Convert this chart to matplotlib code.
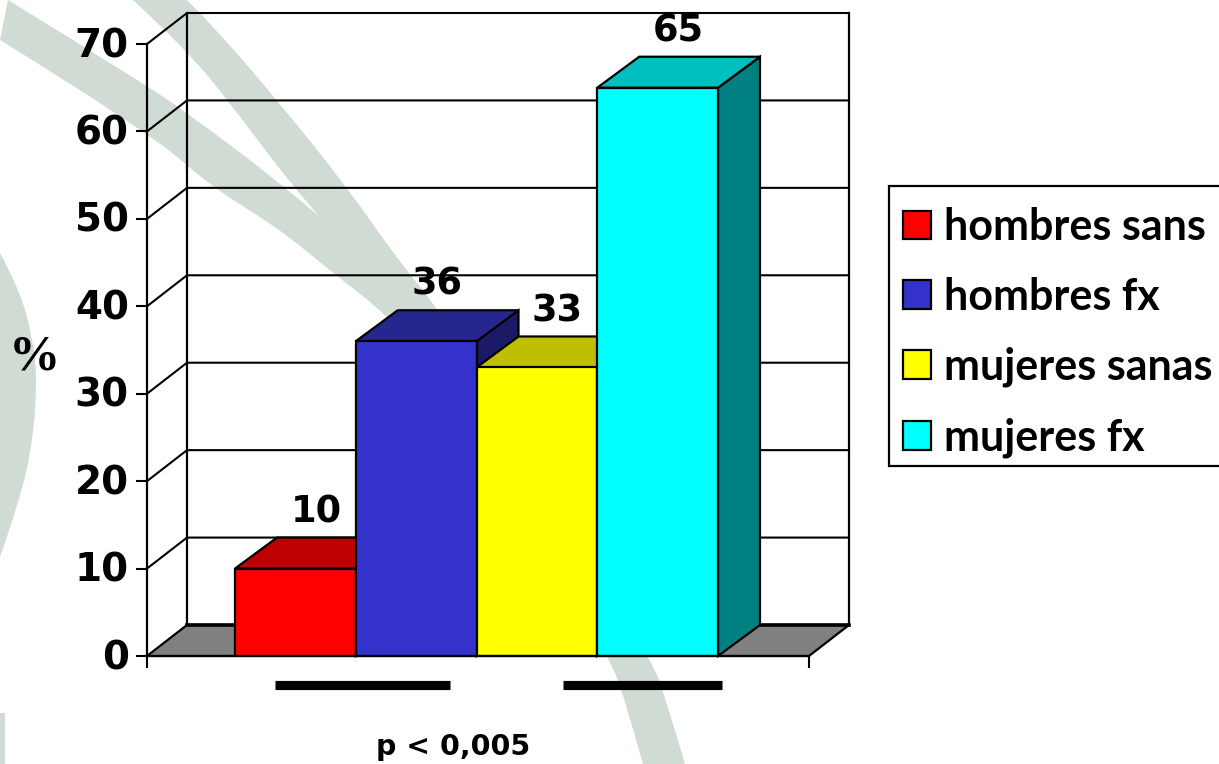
import matplotlib
matplotlib.use('Agg')
import matplotlib.pyplot as plt
from matplotlib.patches import Polygon, Patch, Rectangle, PathPatch
from matplotlib.path import Path
from matplotlib.transforms import ScaledTranslation

labels = ['hombres sans', 'hombres fx', 'mujeres sanas', 'mujeres fx']
values = [10, 36, 33, 65]
front_colors = ['#FF0000', '#3333CC', '#FFFF00', '#00FFFF']
top_colors = ['#BF0000', '#26268F', '#BFBF00', '#00BFBF']
side_colors = ['#800000', '#1A1A66', '#808000', '#008080']
y_ticks = [0, 10, 20, 30, 40, 50, 60, 70]

W, H = 1219, 764
FONT = 'Lato'
NUM_FONT = 'DejaVu Sans'
BAND = '#D0DBD4'


def smooth_edges(edges):
    # each edge becomes a chain of quadratic curves, corners between edges stay sharp
    verts, codes = [], []
    for pts in edges:
        verts.append(pts[0])
        codes.append(Path.MOVETO if not verts[:-1] else Path.LINETO)
        for a, b in zip(pts[1:-1], pts[2:]):
            mid = ((a[0] + b[0]) / 2, (a[1] + b[1]) / 2)
            if b == pts[-1]:
                mid = b
            verts += [a, mid]
            codes += [Path.CURVE3, Path.CURVE3]
    verts.append(verts[0])
    codes.append(Path.CLOSEPOLY)
    return Path(verts, codes)


fig = plt.figure(figsize=(W / 100, H / 100), dpi=100)

# watermark swooshes, in pixel coordinates
bg = fig.add_axes([0, 0, 1, 1], zorder=0)
bg.set_xlim(0, W)
bg.set_ylim(H, 0)
bg.axis('off')
upper_arm = [(8, 0), (143, 83), (187, 113), (273, 177), (320, 217)]
inner_arm = [(320, 217), (293, 187), (233, 107), (187, 50), (133, 0)]
outer_edge = [(187, 0), (217, 30), (277, 100), (347, 187), (400, 263), (438, 308), (520, 440),
              (590, 570), (652, 660), (667, 703), (685, 764)]
inner_edge = [(643, 764), (623, 693), (610, 660), (530, 520), (450, 390), (390, 317), (333, 273),
              (277, 227), (213, 188), (146, 130), (0, 40)]
bg.add_patch(PathPatch(smooth_edges([upper_arm, inner_arm, outer_edge, inner_edge]), fc=BAND, ec='none'))
left_band = [(0, 253), (20, 290), (33, 340), (37, 380), (33, 440), (20, 500), (0, 557)]
bg.add_patch(PathPatch(smooth_edges([left_band]), fc=BAND, ec='none'))
bg.add_patch(Rectangle((0, 713), 5, 51, fc=BAND, ec='none'))

# chart axes span the front plane of the 3d box
ax = fig.add_axes([147 / W, 1 - 656 / H, 662 / W, 612 / H], zorder=1)
ax.patch.set_visible(False)
bar_px = 120.75
x0 = -0.5 - 88 / bar_px
x1 = x0 + 662 / bar_px
ax.set_xlim(x0, x1)
ax.set_ylim(0, 70)
wall_dx = 40 / bar_px
wall_dy = 31 / (612 / 70)
bar_dx = 42 / bar_px
bar_dy = 31 / (612 / 70)
lw = 1.6

# floor and back walls
ax.add_patch(Polygon([(x0, 0), (x0 + wall_dx, wall_dy), (x1 + wall_dx, wall_dy), (x1, 0)],
                     closed=True, fc='#808080', ec='black', lw=lw, clip_on=False, zorder=1))
ax.plot([x0 + wall_dx, x1 + wall_dx], [wall_dy, wall_dy], color='black', lw=2.6, clip_on=False, zorder=1.5)
for t in y_ticks[1:]:
    ax.plot([x0, x0 + wall_dx, x1 + wall_dx], [t, t + wall_dy, t + wall_dy], color='black', lw=1.5,
            clip_on=False, zorder=1)
ax.plot([x0 + wall_dx] * 2, [wall_dy, 70 + wall_dy], color='black', lw=lw, clip_on=False, zorder=1)
ax.plot([x1 + wall_dx] * 2, [wall_dy, 70 + wall_dy], color='black', lw=lw, clip_on=False, zorder=1)

# each bar: side, top, then front so the next bar hides the overhang
for i, v in enumerate(values):
    left, right = i - 0.5, i + 0.5
    z = 2 + i
    ax.add_patch(Polygon([(right, 0), (right + bar_dx, bar_dy), (right + bar_dx, v + bar_dy), (right, v)],
                         closed=True, fc=side_colors[i], ec='black', lw=lw, clip_on=False, zorder=z))
    ax.add_patch(Polygon([(left, v), (left + bar_dx, v + bar_dy), (right + bar_dx, v + bar_dy), (right, v)],
                         closed=True, fc=top_colors[i], ec='black', lw=lw, clip_on=False, zorder=z))
    ax.bar(i, v, width=1, color=front_colors[i], edgecolor='black', linewidth=lw, zorder=z + 0.5)
    ax.text(i + 0.17, v + 6.5, str(v), ha='center', va='center', fontsize=26.5, fontweight='bold',
            family=NUM_FONT, zorder=10, clip_on=False)

ax.spines['top'].set_visible(False)
ax.spines['right'].set_visible(False)
for s in ['left', 'bottom']:
    ax.spines[s].set_linewidth(lw)
    ax.spines[s].set_zorder(9)
ax.set_yticks(y_ticks)
ax.set_yticklabels([str(t) for t in y_ticks], fontsize=28, fontweight='bold', family=NUM_FONT)
ax.set_xticks([x0, x1])
ax.set_xticklabels(['', ''])
ax.tick_params(axis='y', length=8, width=1.5, pad=5)
ax.tick_params(axis='x', length=8.5, width=1.5)
# nudge the numbers up a little from their ticks
nudge = ScaledTranslation(0, 2 / 100, fig.dpi_scale_trans)
for tl in ax.get_yticklabels():
    tl.set_transform(tl.get_transform() + nudge)

fig.text(34 / W, 1 - 357 / H, '%', family='Liberation Serif', fontweight='bold', fontsize=37,
         ha='center', va='center')

# significance bars and the box behind the legend
over = fig.add_axes([0, 0, 1, 1], zorder=2)
over.set_xlim(0, W)
over.set_ylim(H, 0)
over.axis('off')
over.plot([275, 450], [684.5, 684.5], color='black', lw=6.6, solid_capstyle='butt')
over.plot([563, 722], [684.5, 684.5], color='black', lw=6.6, solid_capstyle='butt')
over.text(453, 747, 'p < 0,005', family=NUM_FONT, fontweight='bold', fontsize=20.5, ha='center', va='center')
over.add_patch(Rectangle((889, 186), 400, 280, fc='white', ec='black', lw=1.6))

handles = [Patch(fc=c, ec='black', lw=1.6) for c in front_colors]
leg = fig.legend(handles, labels, loc='upper left', bbox_to_anchor=(903 / W, 1 - 207 / H),
                 prop={'family': FONT, 'weight': 'bold', 'size': 31}, frameon=False,
                 handlelength=0.65, handleheight=0.65, handletextpad=0.3, labelspacing=0.695,
                 borderpad=0, borderaxespad=0)
leg.set_zorder(5)

fig.savefig('out.png', dpi=100)
